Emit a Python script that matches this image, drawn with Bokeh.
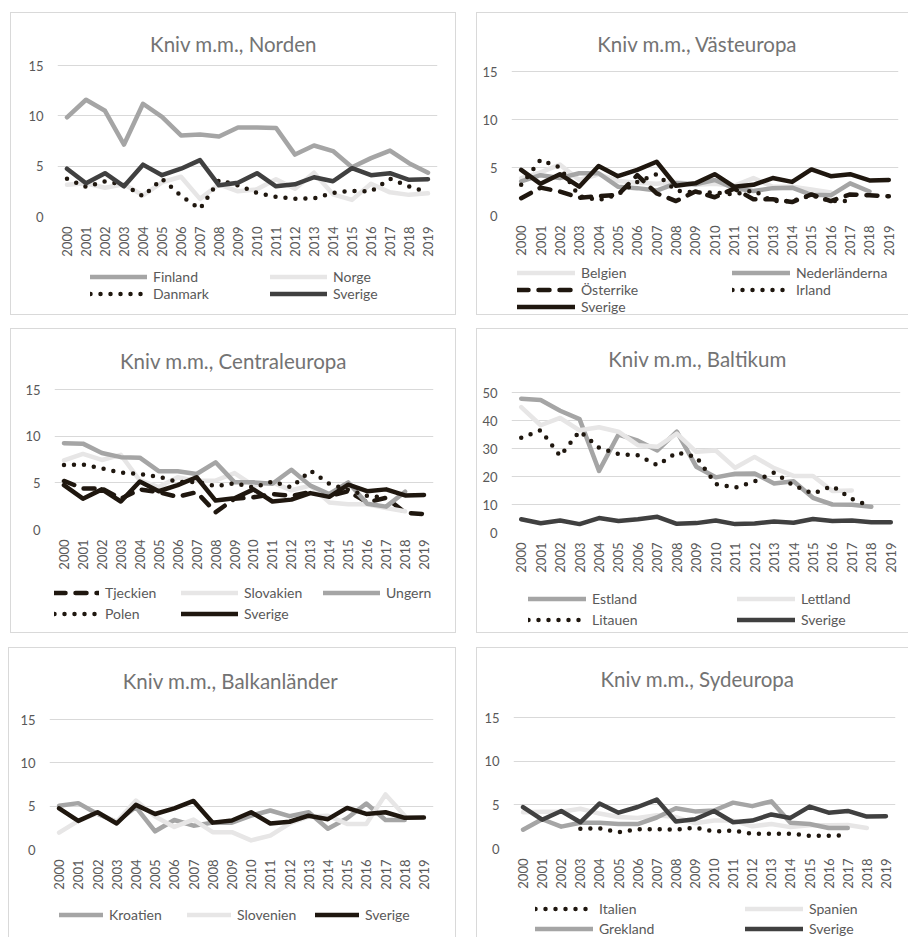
import math
import numpy as np
from bokeh.plotting import figure
from bokeh.models import Range1d, FactorRange, FixedTicker, Legend, LegendItem, Label, Spacer
from bokeh.layouts import row, column
from bokeh.embed import file_html
from bokeh.resources import INLINE

nan = float("nan")
years = [str(y) for y in range(2000, 2020)]

sverige = [4.75, 3.3, 4.3, 3.0, 5.15, 4.1, 4.75, 5.6, 3.1, 3.35, 4.3, 3.0, 3.2, 3.9, 3.5, 4.8, 4.1, 4.3, 3.65, 3.7]

finland = [9.85, 11.6, 10.5, 7.15, 11.2, 9.9, 8.05, 8.15, 7.95, 8.85, 8.85, 8.8, 6.15, 7.05, 6.5, 4.9, 5.8, 6.55, 5.3, 4.35]
norge = [3.15, 3.3, 2.85, 3.2, 2.1, 3.4, 3.95, 1.75, 3.2, 2.5, 2.7, 3.7, 2.75, 4.35, 2.2, 1.65, 3.25, 2.4, 2.15, 2.3]
danmark = [3.75, 2.95, 3.5, 3.15, 2.0, 3.75, 2.05, 0.75, 3.6, 3.1, 2.35, 1.95, 1.75, 1.8, 2.35, 2.55, 2.5, 3.75, 3.0, 2.4]

belgien = [3.9, 4.5, 5.3, 3.7, 4.3, 3.6, 3.4, 3.3, 3.5, 3.2, 3.3, 3.1, 3.9, 3.0, 3.0, 2.7, 2.4, nan, nan, nan]
nederlanderna = [3.55, 4.2, 3.9, 4.4, 4.4, 3.0, 2.85, 2.6, 3.35, 3.25, 3.7, 2.85, 2.55, 2.85, 2.9, 2.15, 2.1, 3.35, 2.5, nan]
osterrike = [1.8, 2.9, 2.5, 1.85, 2.0, 2.15, 4.2, 2.3, 1.5, 2.5, 1.9, 2.8, 1.7, 1.7, 1.4, 2.2, 1.5, 2.2, 2.1, 2.0]
irland = [3.2, 5.8, 5.0, 2.0, 1.6, 2.2, 3.5, 4.3, 2.6, 2.4, 2.4, 2.2, 2.6, 1.5, 1.5, 2.1, 1.5, 1.5, nan, nan]

tjeckien = [5.2, 4.4, 4.4, 3.3, 4.3, 4.0, 3.5, 4.0, 1.85, 3.3, 3.45, 3.8, 3.6, 4.0, 3.6, 4.1, 2.9, 3.4, 1.8, 1.65]
slovakien = [7.4, 8.1, 7.45, 8.0, 5.25, 4.55, 5.6, 5.2, 5.25, 6.05, 4.7, 5.05, 4.2, 4.7, 2.9, 2.7, 2.7, 2.3, 1.95, nan]
ungern = [9.25, 9.2, 8.2, 7.75, 7.7, 6.25, 6.25, 5.95, 7.2, 5.05, 5.05, 4.9, 6.4, 4.7, 3.8, 5.05, 2.75, 2.45, 4.05, nan]
polen = [6.9, 6.95, 6.55, 6.1, 5.95, 5.65, 5.1, 5.1, 4.65, 4.95, 4.5, 5.15, 4.5, 6.3, 4.9, 4.25, 3.6, 3.4, nan, nan]

estland = [47.8, 47.3, 43.5, 40.5, 22.0, 35.0, 32.8, 29.3, 36.0, 23.5, 19.7, 21.0, 21.1, 17.5, 18.3, 12.4, 10.0, 9.9, 9.2, nan]
lettland = [44.8, 38.3, 40.9, 36.5, 37.6, 36.0, 31.2, 30.6, 35.3, 28.8, 29.3, 23.1, 27.0, 23.0, 20.2, 20.2, 14.8, 15.0, nan, nan]
litauen = [33.8, 36.5, 27.3, 36.2, 30.3, 28.0, 27.6, 24.0, 28.6, 27.0, 17.3, 16.0, 18.3, 21.4, 16.8, 13.9, 16.6, 12.0, 9.3, nan]

kroatien = [5.05, 5.35, 4.1, 3.2, 4.9, 2.1, 3.4, 2.75, 3.1, 3.1, 3.9, 4.5, 3.85, 4.3, 2.4, 3.6, 5.3, 3.4, 3.4, nan]
slovenien = [1.95, 3.3, 4.2, 3.2, 5.65, 3.8, 2.6, 3.45, 2.0, 2.0, 1.05, 1.6, 3.0, 3.8, 3.9, 2.95, 2.95, 6.35, 3.9, nan]

italien = [nan, nan, nan, 2.25, 2.3, 1.85, 2.2, 2.2, 2.15, 2.4, 1.95, 2.05, 1.7, 1.7, 1.7, 1.45, 1.45, 1.5, nan, nan]
spanien = [4.15, 4.2, 4.2, 4.55, 4.0, 3.6, 3.5, 3.8, 3.6, 2.9, 3.2, 3.2, 2.55, 2.8, 2.45, 2.65, 2.65, 2.7, 2.35, nan]
grekland = [2.15, 3.35, 2.5, 2.95, 2.95, 2.8, 2.8, 3.55, 4.6, 4.25, 4.35, 5.25, 4.85, 5.4, 2.95, 2.8, 2.35, 2.35, nan, nan]

ticks15 = [0, 5, 10, 15]
ticks50 = [0, 10, 20, 30, 40, 50]

FONT = "Lato"
TXT = "#595959"
TITLE = "#737373"
GRID = "#d9d9d9"
LIGHT = "#e7e6e6"
MID = "#a5a5a5"
DARK = "#404040"
BLACK = "#1f170f"
LW = 4.5
TOP = 2      # main frame reaches up to here so the title sits inside it
AXB = 46     # room below the frame for the rotated year labels
RH = 17      # legend row height

DASHES = {"solid": "solid", "dot": "0 10", "dash": "11 10"}


def shadow(sides):
    parts = []
    if "l" in sides:
        parts.append("inset 1px 0 0 #d9d9d9")
    if "t" in sides:
        parts.append("inset 0 1px 0 #d9d9d9")
    if "r" in sides:
        parts.append("inset -1px 0 0 #d9d9d9")
    if "b" in sides:
        parts.append("inset 0 -1px 0 #d9d9d9")
    return {"box-shadow": ", ".join(parts) if parts else "none", "background-color": "white"}


def style_line(fig, data, color, style, **kw):
    return fig.line(years, np.array(data, dtype=float), line_color=color, line_width=LW,
                    line_dash=DASHES[style], line_cap="round", line_join="round", **kw)


def make_panel(title, series, ymax, yticks, W, H, fl, fr, ft, fb, tpos, cols_x, rows_y,
               ncols, gws, sides):
    Hm = fb + AXB
    Hl = H - Hm
    yend = ymax * (fb - TOP) / (fb - ft)
    p = figure(width=W, height=Hm, x_range=FactorRange(factors=years), y_range=Range1d(0, yend),
               output_backend="svg", toolbar_location=None,
               min_border_left=fl, min_border_right=W - fr, min_border_top=TOP,
               min_border_bottom=AXB)
    p.title.visible = False
    p.outline_line_color = None
    p.border_fill_color = None
    p.background_fill_color = None
    p.xgrid.grid_line_color = None
    p.ygrid.grid_line_color = GRID
    p.ygrid.grid_line_width = 1
    p.ygrid.ticker = FixedTicker(ticks=yticks)
    p.yaxis.ticker = FixedTicker(ticks=yticks)
    for ax in (p.xaxis[0], p.yaxis[0]):
        ax.axis_line_color = None
        ax.major_tick_line_color = None
        ax.minor_tick_line_color = None
        ax.major_tick_out = 0
        ax.major_tick_in = 0
        ax.major_label_text_font = FONT
        ax.major_label_text_font_size = "13px"
        ax.major_label_text_color = TXT
    p.yaxis.major_label_standoff = 14
    p.xaxis.major_label_standoff = 10
    p.xaxis.major_label_orientation = math.pi / 2

    for name, data, color, style in series:
        style_line(p, data, color, style)

    p.add_layout(Label(x=tpos[0] - fl, y=fb - tpos[1], x_units="screen", y_units="screen",
                       text=title, text_align="center", text_baseline="middle",
                       text_font=FONT, text_font_size="20.5px", text_color=TITLE))
    p.styles = shadow(sides.replace("b", ""))

    # legend strip below the chart; its frame lines up with the chart frame above it,
    # the series are drawn there too but outside its visible value window
    lg = figure(width=W, height=Hl, x_range=FactorRange(factors=years), y_range=Range1d(-200, -199),
                output_backend="svg", toolbar_location=None,
                x_axis_location=None, y_axis_location=None,
                min_border_left=fl, min_border_right=W - fr, min_border_top=0, min_border_bottom=0)
    lg.title.visible = False
    lg.outline_line_color = None
    lg.border_fill_color = None
    lg.background_fill_color = None
    lg.xgrid.visible = False
    lg.ygrid.visible = False
    items = []
    for name, data, color, style in series:
        r = style_line(lg, data, color, style)
        items.append(LegendItem(label=name, renderers=[r]))

    pitch = (rows_y[1] - rows_y[0]) if len(rows_y) > 1 else RH
    sp = max(pitch - RH, 0)
    top_in = (rows_y[0] - Hm) - RH / 2
    for c in range(ncols):
        col_items = [it for i, it in enumerate(items) if i % ncols == c]
        if not col_items:
            continue
        n = len(col_items)
        h = n * RH + (n - 1) * sp
        leg = Legend(items=col_items, location=(cols_x[c] - fl, Hl - top_in - h),
                     orientation="vertical", glyph_width=gws[c], glyph_height=RH,
                     label_height=RH, label_standoff=6, spacing=sp,
                     padding=0, margin=0, border_line_color=None,
                     background_fill_alpha=0, label_text_font=FONT,
                     label_text_font_size="14px", label_text_color=TXT)
        lg.add_layout(leg, "center")
    lg.styles = shadow(sides.replace("t", ""))
    return column(p, lg, spacing=0)


p1 = make_panel("Kniv m.m., Norden",
                [("Finland", finland, MID, "solid"), ("Norge", norge, LIGHT, "solid"),
                 ("Danmark", danmark, BLACK, "dot"), ("Sverige", sverige, DARK, "solid")],
                15, ticks15, 446, 303, 47, 427, 53, 204, (223, 31), [80, 260], [264, 281], 2,
                [57, 57], "ltrb")
p2 = make_panel("Kniv m.m., Västeuropa",
                [("Belgien", belgien, LIGHT, "solid"), ("Nederländerna", nederlanderna, MID, "solid"),
                 ("Österrike", osterrike, BLACK, "dash"), ("Irland", irland, BLACK, "dot"),
                 ("Sverige", sverige, BLACK, "solid")],
                15, ticks15, 432, 303, 35, 422, 59, 203, (221, 31), [41, 256], [260, 276, 292], 2,
                [58, 58], "ltb")
p3 = make_panel("Kniv m.m., Centraleuropa",
                [("Tjeckien", tjeckien, BLACK, "dash"), ("Slovakien", slovakien, LIGHT, "solid"),
                 ("Ungern", ungern, MID, "solid"), ("Polen", polen, BLACK, "dot"),
                 ("Sverige", sverige, BLACK, "solid")],
                15, ticks15, 446, 305, 44, 423, 61, 201, (223, 32), [44, 171, 313], [264, 285], 3,
                [45, 57, 57], "ltrb")
p4 = make_panel("Kniv m.m., Baltikum",
                [("Estland", estland, MID, "solid"), ("Lettland", lettland, LIGHT, "solid"),
                 ("Litauen", litauen, BLACK, "dot"), ("Sverige", sverige, DARK, "solid")],
                50, ticks50, 432, 305, 35, 424, 64, 204, (221, 30), [52, 261], [270, 291], 2,
                [58, 58], "ltb")
p5 = make_panel("Kniv m.m., Balkanländer",
                [("Kroatien", kroatien, MID, "solid"), ("Slovenien", slovenien, LIGHT, "solid"),
                 ("Sverige", sverige, BLACK, "solid")],
                15, ticks15, 448, 290, 41, 425, 72, 202, (222, 33), [51, 179, 307], [267], 3,
                [44, 44, 44], "ltr")
p6 = make_panel("Kniv m.m., Sydeuropa",
                [("Italien", italien, BLACK, "dot"), ("Spanien", spanien, LIGHT, "solid"),
                 ("Grekland", grekland, MID, "solid"), ("Sverige", sverige, DARK, "solid")],
                15, ticks15, 432, 290, 37, 419, 70, 201, (221, 31), [59, 269], [261, 281], 2,
                [58, 58], "lt")

layout = column(
    Spacer(height=12),
    row(Spacer(width=10), p1, Spacer(width=20), p2, spacing=0),
    Spacer(height=13),
    row(Spacer(width=10), p3, Spacer(width=20), p4, spacing=0),
    Spacer(height=14),
    row(Spacer(width=8), p5, Spacer(width=20), p6, spacing=0),
    spacing=0,
)

open("out.html", "w").write(file_html(layout, INLINE))
